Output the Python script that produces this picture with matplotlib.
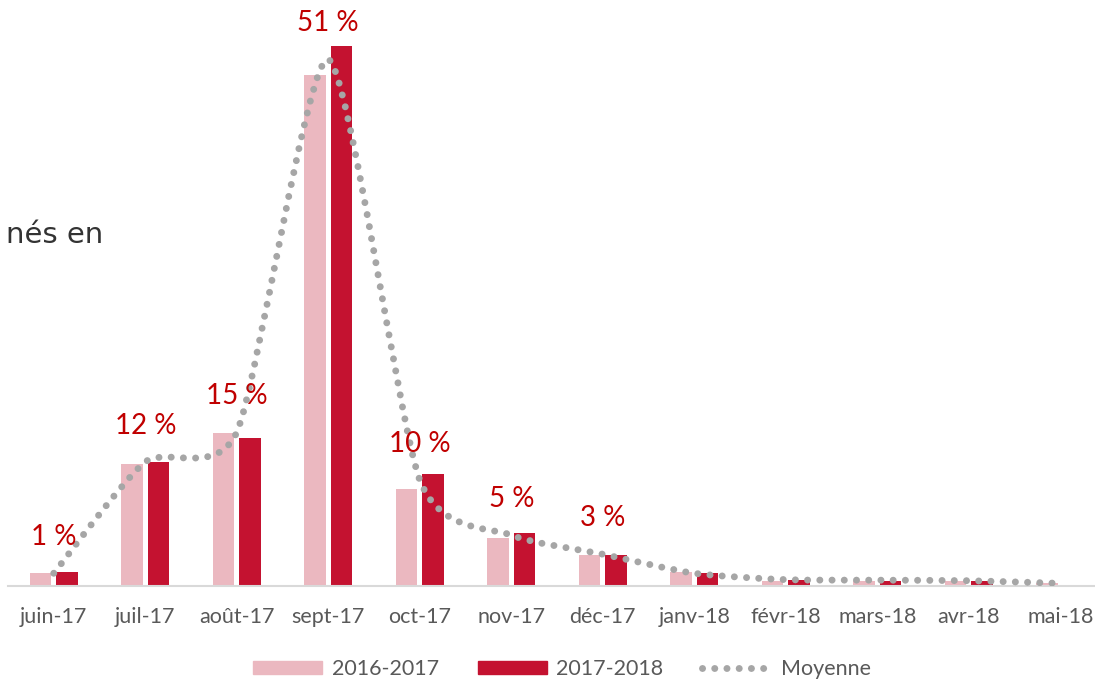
import numpy as np
import matplotlib
matplotlib.use("Agg")
import matplotlib.pyplot as plt
from matplotlib.path import Path
from matplotlib.patches import PathPatch, Patch
from matplotlib.lines import Line2D

plt.rcParams['font.family'] = ['Lato', 'DejaVu Sans']

months = ["juin-17", "juil-17", "août-17", "sept-17", "oct-17", "nov-17",
          "déc-17", "janv-18", "févr-18", "mars-18", "avr-18", "mai-18"]
s2016 = [1.2, 11.5, 14.4, 48.2, 9.2, 4.5, 2.9, 1.3, 0.5, 0.45, 0.5, 0.3]
s2017 = [1.3, 11.7, 14.0, 51.0, 10.6, 5.0, 2.9, 1.2, 0.55, 0.5, 0.45, 0.1]
moyenne = [1.2, 11.7, 14.5, 49.7, 10.0, 4.8, 3.0, 1.2, 0.6, 0.55, 0.5, 0.25]
labels = ["1 %", "12 %", "15 %", "51 %", "10 %", "5 %", "3 %"]

light = "#EBB8C0"
dark = "#C41230"
grey = "#A6A6A6"

fig = plt.figure(figsize=(10.95, 6.81), dpi=100)
ax = fig.add_axes([8/1095, 95/681, 1098/1095, 551/681])

x = np.arange(len(months))
w = 0.23
ax.bar(x - 0.145, s2016, w, color=light, label="2016-2017")
ax.bar(x + 0.145, s2017, w, color=dark, label="2017-2018")

# smoothed line : bezier through the points, softer tangents
pts = np.column_stack([x, moyenne]).astype(float)
verts = [pts[0]]
codes = [Path.MOVETO]
n = len(pts)
k = 1 / 9
for i in range(n - 1):
    p0 = pts[max(i - 1, 0)]
    p1 = pts[i]
    p2 = pts[i + 1]
    p3 = pts[min(i + 2, n - 1)]
    c1 = p1 + (p2 - p0) * k
    c2 = p2 - (p3 - p1) * k
    verts += [c1, c2, p2]
    codes += [Path.CURVE4] * 3
patch = PathPatch(Path(verts, codes), fill=False, edgecolor=grey, lw=5,
                  linestyle=(0, (0.01, 1.75)), capstyle='round', zorder=3)
ax.add_patch(patch)

for i, lab in enumerate(labels):
    ax.annotate(lab, (x[i], moyenne[i]), xytext=(0, 26), textcoords="offset points",
                ha="center", va="center", color="#C00000", fontsize=20,
                annotation_clip=False)

ax.set_xlim(-0.5, len(months) - 0.5)
ax.set_ylim(0, 52)
ax.set_yticks([])
ax.set_xticks(x)
ax.set_xticklabels(months, fontsize=15.5, color="#595959")
ax.tick_params(axis="x", length=0, pad=15)
for s in ["top", "right", "left"]:
    ax.spines[s].set_visible(False)
ax.spines["bottom"].set_color("#D9D9D9")
ax.spines["bottom"].set_linewidth(1.5)

fig.text(103/1095, 1 - 243/681, "nés en", ha="right", va="baseline",
         fontsize=21, color="#333333", family=["DejaVu Sans"])

handles = [Patch(color=light), Patch(color=dark),
           Line2D([0], [0], color=grey, lw=5, linestyle=(0, (0.01, 1.75)),
                  dash_capstyle='round')]
fig.legend(handles, ["2016-2017", "2017-2018", "Moyenne"], loc="center",
           bbox_to_anchor=(562/1095, 1 - 669/681), ncol=3, frameon=False,
           fontsize=15.5, labelcolor="#595959", handlelength=3.2,
           handleheight=0.6, handletextpad=0.45, columnspacing=1.8)

fig.savefig("out.png", dpi=100)
